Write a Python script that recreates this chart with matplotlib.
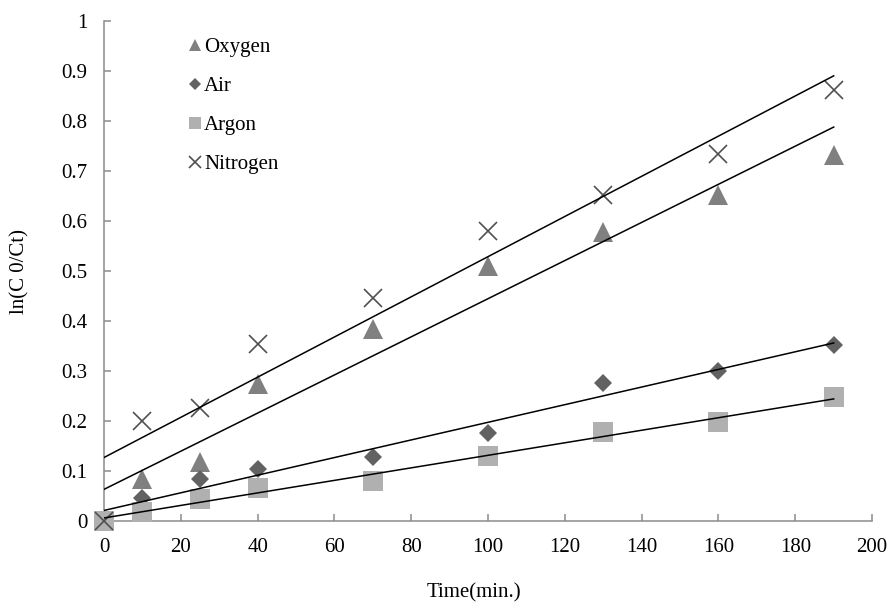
import numpy as np
import matplotlib
matplotlib.use('Agg')
import matplotlib.pyplot as plt
from matplotlib.lines import Line2D

# data
time_min = [0, 10, 25, 40, 70, 100, 130, 160, 190]
oxygen = [0, 0.085, 0.119, 0.274, 0.384, 0.510, 0.579, 0.652, 0.732]
air = [0, 0.046, 0.085, 0.104, 0.129, 0.176, 0.276, 0.301, 0.352]
argon = [0, 0.019, 0.044, 0.066, 0.081, 0.130, 0.178, 0.198, 0.248]
nitrogen = [0, 0.201, 0.226, 0.354, 0.447, 0.580, 0.653, 0.733, 0.862]

plt.rcParams['font.family'] = ['Liberation Serif', 'DejaVu Serif']
plt.rcParams['font.size'] = 15

fig = plt.figure(figsize=(8.89, 6.08), dpi=100)
ax = fig.add_axes([0.117, 0.143, 0.864, 0.8225])

x = np.array(time_min)
# name, values, marker, colour, size on plot, size in legend
series = [
    ('Oxygen', oxygen, '^', '#808080', 14.4, 8.6),
    ('Air', air, 'D', '#626262', 9.2, 6.0),
    ('Argon', argon, 's', '#b0b0b0', 14.0, 8.4),
    ('Nitrogen', nitrogen, 'x', '#505050', 13.5, 8.2),
]

handles = []
for name, vals, mk, col, ms, lms in series:
    mew = 1.2 if mk == 'x' else 0
    ax.plot(x, vals, linestyle='none', marker=mk, markersize=ms,
            color=col, markeredgecolor=col, markeredgewidth=mew,
            zorder=2, clip_on=False)
    handles.append(Line2D([0], [0], linestyle='none', marker=mk, markersize=lms,
                          color=col, markeredgecolor=col, markeredgewidth=mew, label=name))
    # linear trendline (least squares)
    k, b = np.polyfit(x, vals, 1)
    xs = np.array([x.min(), x.max()])
    ax.plot(xs, k * xs + b, color='black', linewidth=1.1, zorder=3)

ax.set_xlim(0, 200)
ax.set_ylim(0, 1)
ax.set_xticks(np.arange(0, 201, 20))
ax.set_yticks(np.arange(0, 1.01, 0.1))
ax.set_yticklabels(['0', '0.1', '0.2', '0.3', '0.4', '0.5', '0.6', '0.7', '0.8', '0.9', '1'])

for s in ['top', 'right']:
    ax.spines[s].set_visible(False)
for s in ['left', 'bottom']:
    ax.spines[s].set_color('#8c8c8c')
    ax.spines[s].set_linewidth(1.1)
    ax.spines[s].set_zorder(1)
ax.tick_params(direction='in', length=5, width=1.1, color='#8c8c8c', labelsize=15)
ax.tick_params(axis='y', pad=12)
ax.tick_params(axis='x', pad=12)

ax.set_xlabel('Time(min.)', fontsize=15)
ax.xaxis.set_label_coords(0.482, -0.125)
ax.set_ylabel('ln(C 0/Ct)', fontsize=15)
ax.yaxis.set_label_coords(-0.097, 0.5)

ax.legend(handles=handles, loc='upper left', bbox_to_anchor=(0.098, 0.983),
          frameon=False, handlelength=0.7, handletextpad=0.1,
          labelspacing=0.93, fontsize=15, borderaxespad=0)

fig.savefig('out.png', dpi=100)
